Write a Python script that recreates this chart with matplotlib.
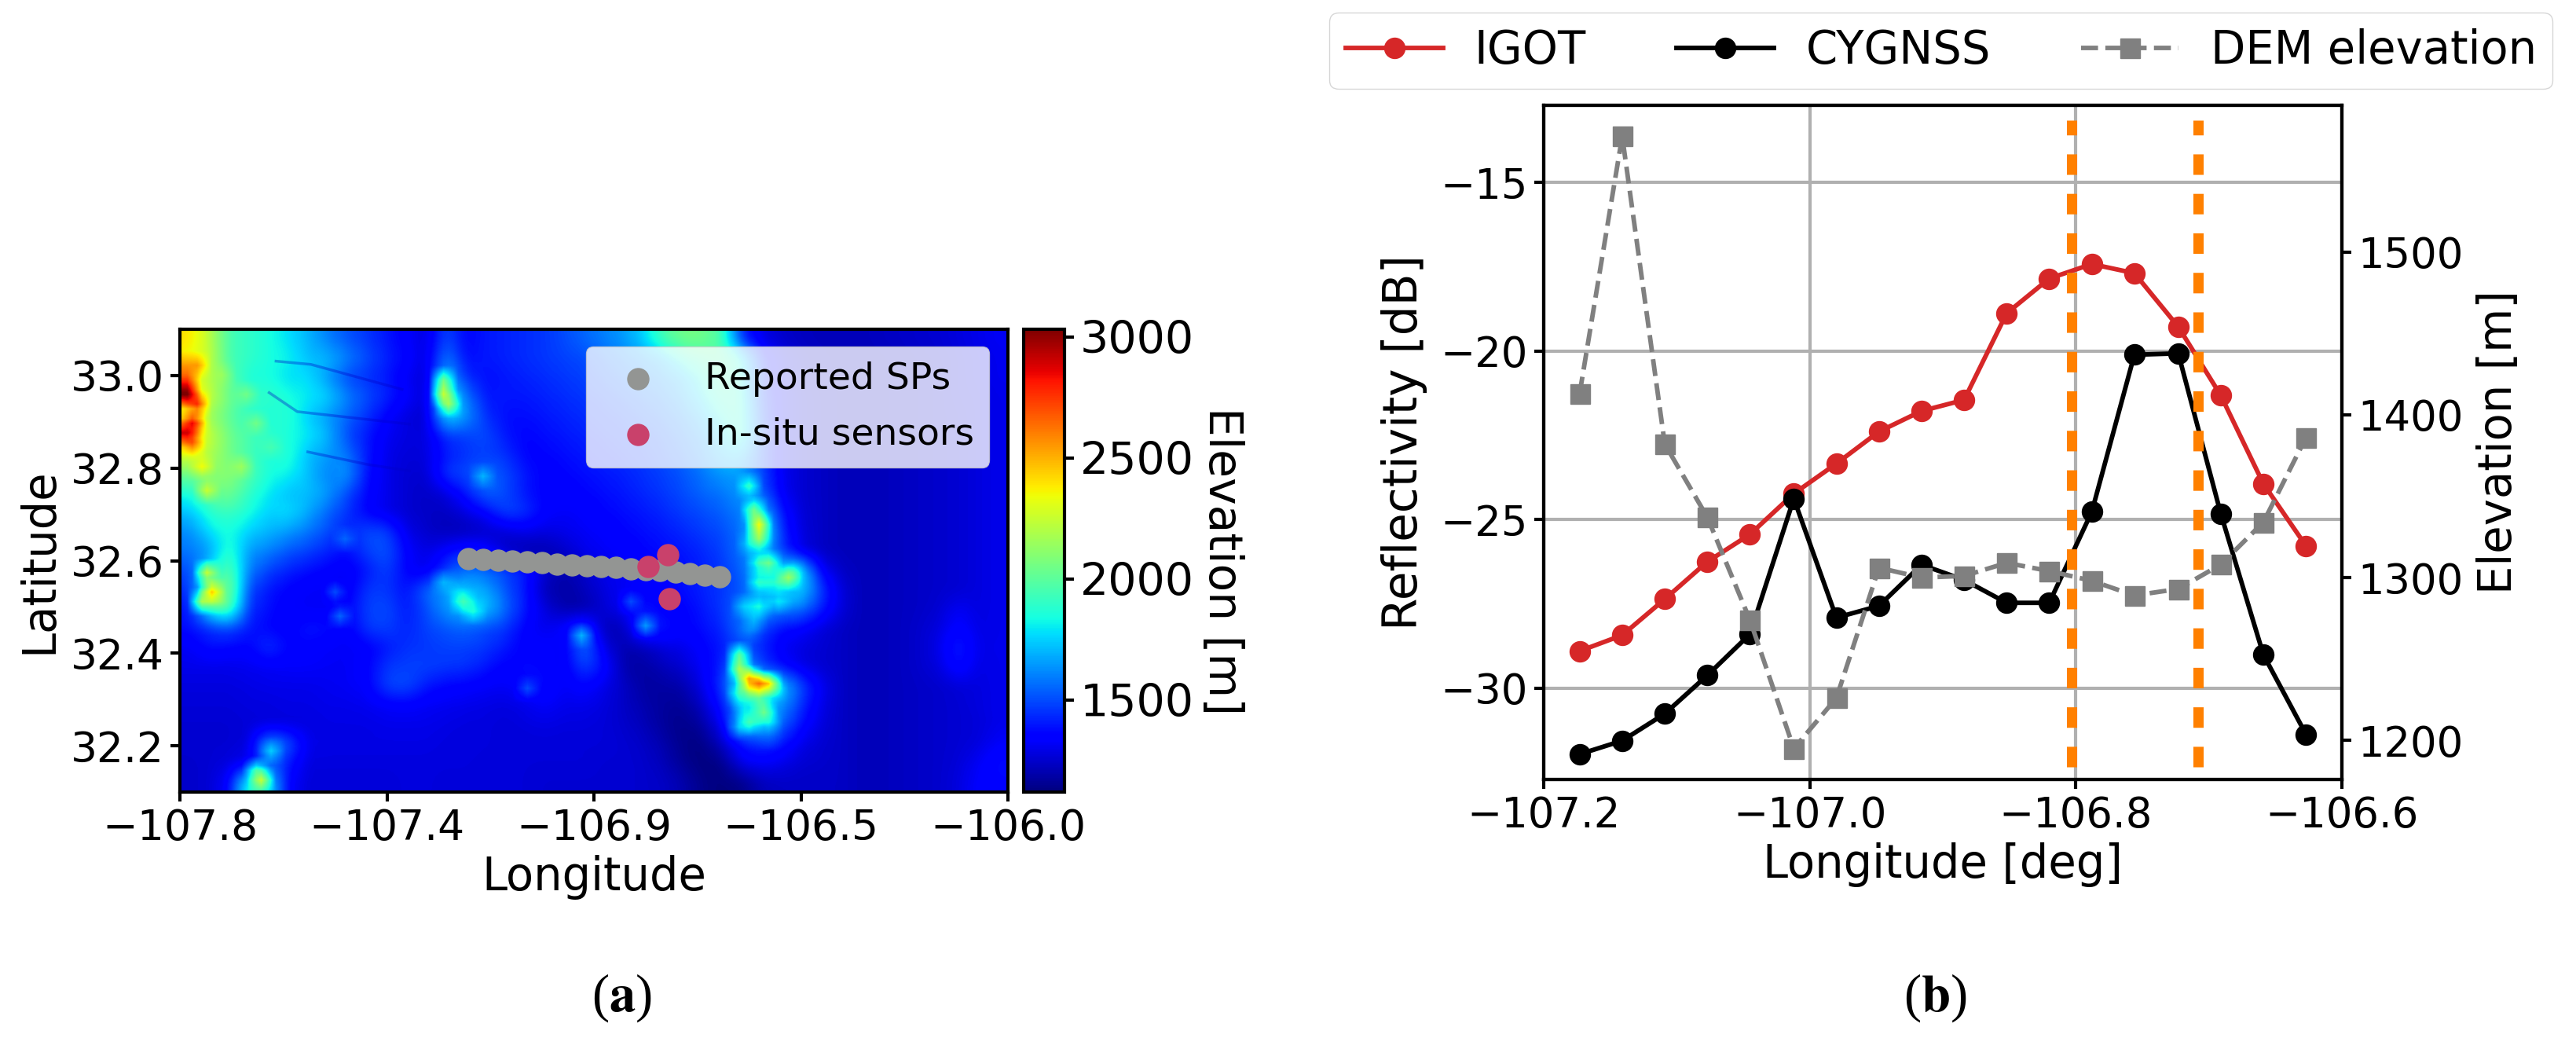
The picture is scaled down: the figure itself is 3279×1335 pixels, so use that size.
import matplotlib
matplotlib.use("Agg")
import matplotlib.pyplot as plt
import numpy as np

W, H = 3280, 1335

# elevation, in tens of metres, north to south, west to east
dem_rows = [
    [240,222,195,190,185,178,170,160,152,146,140,134,128,150,136,140,142,144,146,150,155,160,165,175,195,205,205,195,145,130,125,123,122,122,122,123,124,125,126,128,130,132],
    [235,225,195,190,185,182,172,170,160,150,142,136,128,160,138,140,142,144,146,148,150,155,160,165,172,188,195,198,185,142,130,125,123,122,122,122,123,124,125,127,129,131],
    [235,220,200,185,185,178,178,165,150,145,140,132,127,170,145,138,140,142,144,146,148,152,156,160,165,172,185,195,185,145,130,125,123,122,122,122,123,124,125,127,129,131],
    [250,225,205,190,190,185,180,175,160,150,142,134,127,185,160,140,140,140,142,144,146,148,152,156,160,168,180,192,188,148,132,126,124,122,122,122,123,124,125,127,128,130],
    [230,215,200,190,185,188,175,165,155,145,135,128,126,180,165,145,138,138,140,142,144,146,148,152,156,162,172,185,190,150,132,126,124,122,122,122,123,124,125,126,128,130],
    [245,225,205,195,190,185,180,170,150,140,132,128,128,145,148,150,140,136,138,140,142,144,146,148,152,158,165,178,190,152,132,126,124,122,122,122,123,124,125,126,128,130],
    [230,220,205,195,185,188,172,165,158,140,130,127,128,140,145,148,145,136,136,138,140,142,144,146,150,155,162,172,175,150,132,126,124,122,122,122,123,124,125,126,128,130],
    [205,210,212,198,185,182,172,160,165,138,130,126,126,145,150,155,150,140,135,136,138,140,142,145,148,152,158,165,165,150,132,126,124,122,122,122,123,124,125,126,128,130],
    [185,200,205,190,180,172,172,165,150,136,130,126,124,128,140,155,150,140,135,135,136,138,140,143,146,150,155,158,165,155,133,126,124,122,122,122,123,124,125,126,128,130],
    [172,188,192,185,175,178,168,155,145,135,130,126,124,123,128,135,148,145,135,132,134,136,138,140,143,147,150,154,160,175,140,127,124,122,122,122,123,124,125,126,128,130],
    [162,178,185,175,170,165,158,150,142,150,148,130,125,122,122,124,126,130,128,130,132,134,136,138,140,143,147,150,158,190,145,128,124,122,122,122,123,124,125,126,128,130],
    [158,165,190,165,160,152,148,142,138,148,152,135,128,135,142,138,125,120,120,124,130,132,134,136,138,140,143,148,158,170,148,130,124,122,122,122,123,124,125,126,128,130],
    [150,178,200,160,148,142,138,135,132,140,148,135,130,148,158,155,148,140,126,120,125,130,132,134,136,138,142,146,155,172,178,180,135,124,122,122,123,124,125,126,128,130],
    [145,195,210,150,140,135,133,132,132,146,146,138,155,165,172,168,152,140,122,118,122,128,132,134,136,138,142,146,152,170,165,178,148,128,122,122,123,124,125,126,128,130],
    [140,185,200,145,138,134,132,132,135,148,150,140,150,165,172,175,156,140,128,120,120,126,132,140,134,135,140,146,158,165,160,158,142,128,122,122,123,124,126,132,128,130],
    [138,145,150,140,136,134,140,138,133,146,148,142,148,152,155,150,146,135,130,135,148,122,122,146,140,135,138,143,158,150,138,135,128,124,122,122,123,125,128,136,129,130],
    [132,138,136,135,145,136,135,133,132,134,140,145,146,148,148,146,140,134,135,132,158,130,120,122,128,130,135,140,150,142,132,128,126,124,122,122,123,125,130,142,130,130],
    [130,130,130,131,132,133,133,132,132,135,146,148,148,146,145,140,134,138,136,132,148,138,120,118,122,126,133,142,172,150,138,130,126,124,122,122,123,125,128,138,129,130],
    [128,128,128,129,130,130,130,131,132,134,148,150,140,136,135,133,132,136,138,132,136,130,124,118,118,120,130,146,185,190,175,150,132,124,122,122,123,124,125,127,128,130],
    [127,127,127,128,128,129,129,130,130,131,133,134,132,131,130,129,128,130,133,130,130,128,124,120,117,116,124,140,165,172,165,145,130,124,122,122,123,124,125,126,128,130],
    [126,126,126,127,128,128,128,129,129,129,130,130,130,129,128,128,127,128,129,128,128,127,125,122,117,114,118,133,168,175,155,138,128,124,122,122,123,124,125,126,127,130],
    [126,126,126,128,165,152,130,129,129,129,129,129,129,128,128,128,127,127,127,127,127,127,126,124,120,114,113,124,140,145,140,130,126,124,122,122,123,124,125,126,128,133],
    [125,126,128,132,155,140,128,128,128,128,128,128,128,128,128,127,127,127,127,127,127,126,126,125,122,116,112,114,130,133,130,126,125,124,122,122,123,124,125,127,132,138],
    [125,126,135,190,180,135,127,127,127,127,127,128,128,127,127,127,127,127,126,126,126,126,126,125,124,120,114,112,114,122,124,124,124,124,122,122,123,124,125,128,134,136],
]
lon_edges = [-107.8, -106.0]
lat_edges = [32.1, 33.1]
elev_min, elev_max = 1120, 3032

# spot heights on the narrow ridges, too fine for the grid above
spot_lon = [-106.565,-106.550,-106.539,-106.539,-106.558,-106.546,-106.520,-106.539,-106.524,-106.478,-106.501,-106.466,-106.569,-106.539,-106.501,-106.470,-106.554,-106.558,-106.581,-106.581,-106.565,-106.546,-106.524,-106.558,-106.581,-106.508,-106.539,-106.569,-106.531,-106.562,-106.520,-106.581,-106.516,
            -107.781,-107.759,-107.743,-107.781,-107.781,-107.766,-107.789,-107.778,-107.781,-107.774,-107.774,-107.762,-107.713,-107.660,-107.637,-107.606,-107.667,-107.751,-107.740,-107.698,-107.606,-107.633,-107.591,-107.553,-107.519,-107.736,-107.728,-107.751,-107.720,-107.179,-107.195,-107.164,-107.225,-107.141,-107.446,-107.461,-107.450,-107.141,-107.225,-107.229,-107.221,-107.625,-107.633,-107.599,-106.928,-106.791,-106.818,-107.042,-107.256]
spot_lat = [32.764,32.713,32.679,32.645,32.635,32.598,32.591,32.557,32.551,32.561,32.557,32.571,32.503,32.503,32.513,32.517,32.473,32.449,32.399,32.368,32.348,32.332,32.333,32.321,32.314,32.321,32.307,32.280,32.267,32.253,32.246,32.240,32.219,
            33.024,33.017,33.031,32.990,32.955,32.943,32.970,32.895,32.875,32.855,32.841,32.895,32.997,32.956,32.902,32.848,32.801,32.808,32.753,32.740,32.767,32.713,32.720,32.963,32.801,32.571,32.534,32.510,32.510,32.510,32.537,32.493,32.557,32.524,32.645,32.537,32.483,32.780,32.963,32.987,32.936,32.125,32.145,32.192,32.436,32.463,32.513,32.328,32.456]
spot_elev = [190,205,235,215,175,190,205,190,185,215,190,185,175,185,180,170,170,160,200,215,250,265,235,215,190,190,200,180,205,195,180,170,155,
             255,255,215,270,305,275,285,285,290,265,240,245,215,205,205,195,215,235,225,200,180,175,175,175,165,225,245,215,210,195,175,185,170,165,155,150,155,170,225,205,215,225,190,175,170,165,150,150,145]

# dark drainage lines in the north west
drain_lon = [[-107.591,-107.515,-107.317], [-107.606,-107.545,-107.301], [-107.522,-107.393,-107.301]]
drain_lat = [[33.031,33.024,32.970], [32.963,32.922,32.895], [32.835,32.808,32.794]]

sp_lon = [-107.173,-107.141,-107.109,-107.077,-107.045,-107.012,-106.980,-106.948,-106.916,-106.884,-106.852,-106.820,-106.788,-106.756,-106.723,-106.691,-106.659,-106.627]
sp_lat = [32.605,32.603,32.601,32.599,32.597,32.595,32.593,32.591,32.589,32.587,32.585,32.582,32.580,32.578,32.575,32.572,32.569,32.566]
sensor_lon = [-106.739, -106.783, -106.736]
sensor_lat = [32.612, 32.588, 32.518]

igot = [-28.90,-28.43,-27.36,-26.25,-25.44,-24.23,-23.34,-22.39,-21.78,-21.45,-18.88,-17.85,-17.42,-17.69,-19.28,-21.32,-23.94,-25.78]
cygnss = [-31.96,-31.56,-30.76,-29.62,-28.40,-24.38,-27.91,-27.56,-26.34,-26.79,-27.47,-27.47,-24.77,-20.11,-20.07,-24.83,-29.01,-31.37]
dem_profile = [1413,1571,1382,1337,1274,1195,1226,1306,1300,1301,1309,1304,1298,1289,1293,1308,1334,1386]
track_bounds = [-106.803, -106.708]

map_xticks = [-107.8, -107.35, -106.9, -106.45, -106.0]
map_xlabels = ["\u2212107.8", "\u2212107.4", "\u2212106.9", "\u2212106.5", "\u2212106.0"]
map_yticks = [33.0, 32.8, 32.6, 32.4, 32.2]
cbar_ticks = [1500, 2000, 2500, 3000]
prof_xticks = [-107.2, -107.0, -106.8, -106.6]
prof_yticks = [-30, -25, -20, -15]
elev_ticks = [1200, 1300, 1400, 1500]


def px_axes(fig, x0, y0, x1, y1):
    # axes from pixel box, y measured from the top
    return fig.add_axes([x0 / W, 1 - y1 / H, (x1 - x0) / W, (y1 - y0) / H])


def box_blur(a, n):
    # running mean along both axes, edges held
    k = np.ones(n) / n
    p = n // 2
    a = np.pad(a, p, mode="edge")
    a = np.apply_along_axis(lambda r: np.convolve(r, k, mode="same"), 0, a)
    a = np.apply_along_axis(lambda r: np.convolve(r, k, mode="same"), 1, a)
    return a[p:-p, p:-p]


def build_dem():
    # grid refined 4x, spot heights pressed in so they blend with the terrain
    fine = box_blur(np.kron(np.array(dem_rows, dtype=float), np.ones((4, 4))), 5)
    nrow, ncol = fine.shape
    for lon, lat, z in zip(spot_lon, spot_lat, spot_elev):
        c = int((lon - lon_edges[0]) / (lon_edges[1] - lon_edges[0]) * ncol)
        r = int((lat_edges[1] - lat) / (lat_edges[1] - lat_edges[0]) * nrow)
        patch = fine[max(r - 1, 0):r + 2, max(c - 1, 0):c + 2]
        patch[patch < z] = z
    return box_blur(fine, 3) * 10


plt.rcParams["font.family"] = "DejaVu Sans"
plt.rcParams["axes.linewidth"] = 3.0
plt.rcParams["xtick.major.size"] = 8.5
plt.rcParams["ytick.major.size"] = 8.5
plt.rcParams["xtick.major.width"] = 3
plt.rcParams["ytick.major.width"] = 3
plt.rcParams["xtick.major.pad"] = 6
plt.rcParams["ytick.major.pad"] = 6
plt.rcParams["mathtext.fontset"] = "stix"

fig = plt.figure(figsize=(W / 100, H / 100), dpi=100)

# (a) map
ax_map = px_axes(fig, 229, 419, 1283, 1008)
im = ax_map.imshow(
    build_dem(),
    extent=[lon_edges[0], lon_edges[1], lat_edges[0], lat_edges[1]],
    cmap="jet",
    vmin=elev_min,
    vmax=elev_max,
    aspect="auto",
    interpolation="bilinear",
)
for dlon, dlat in zip(drain_lon, drain_lat):
    ax_map.plot(dlon, dlat, color="#0000c8", lw=2.5, alpha=0.35, zorder=1.5)
ax_map.scatter(sp_lon, sp_lat, s=378, color="#939593", label="Reported SPs", zorder=3)
ax_map.scatter(sensor_lon, sensor_lat, s=378, color="#c9416b", label="In-situ sensors", zorder=4)
ax_map.set_xlim(lon_edges)
ax_map.set_ylim(lat_edges)
ax_map.set_xticks(map_xticks)
ax_map.set_xticklabels(map_xlabels)
ax_map.set_yticks(map_yticks)
ax_map.tick_params(labelsize=38.5)
ax_map.set_xlabel("Longitude", fontsize=41.5, labelpad=6)
ax_map.set_ylabel("Latitude", fontsize=41.5, labelpad=8)
ax_map.legend(
    loc="upper right",
    bbox_to_anchor=(1259 / W, 1 - 441 / H),
    bbox_transform=fig.transFigure,
    fontsize=34,
    borderaxespad=0,
    borderpad=0.4,
    handletextpad=0.8,
    labelspacing=0.55,
)

cax = px_axes(fig, 1303, 419, 1355, 1008)
cb = fig.colorbar(im, cax=cax)
cb.set_ticks(cbar_ticks)
cb.ax.tick_params(labelsize=41)
cb.set_label("Elevation [m]", fontsize=42, rotation=270, labelpad=46)

# (b) reflectivity profile
ax = px_axes(fig, 1965, 134, 2981, 992)
ax.grid(True, color="#b0b0b0", linewidth=3)
ax.set_axisbelow(True)
l1, = ax.plot(sp_lon, igot, "-o", color="#d62728", lw=4.2, ms=18.7, label="IGOT")
l2, = ax.plot(sp_lon, cygnss, "-o", color="black", lw=4.2, ms=18.7, label="CYGNSS")
ax.vlines(track_bounds, -32.34, -13.16, color="#ff8000", lw=9.4, linestyles=(0, (2.0, 1.85)), zorder=5)
ax.set_xlim(-107.2, -106.6)
ax.set_ylim(-32.71, -12.71)
ax.set_xticks(prof_xticks)
ax.set_xticklabels(["\u2212107.2", "\u2212107.0", "\u2212106.8", "\u2212106.6"])
ax.set_yticks(prof_yticks)
ax.tick_params(labelsize=38)
ax.set_xlabel("Longitude [deg]", fontsize=41.5, labelpad=6)
ax.set_ylabel("Reflectivity [dB]", fontsize=43, labelpad=12)

ax_r = ax.twinx()
l3, = ax_r.plot(sp_lon, dem_profile, "--s", color="gray", lw=4.2, ms=18, label="DEM elevation")
ax_r.set_ylim(1176, 1590)
ax_r.set_yticks(elev_ticks)
ax_r.tick_params(labelsize=38)
ax_r.set_ylabel("Elevation [m]", fontsize=41.5, labelpad=12)

fig.legend(
    handles=[l1, l2, l3],
    loc="upper right",
    bbox_to_anchor=(3249 / W, 1 - 16 / H),
    ncol=3,
    fontsize=41.5,
    borderaxespad=0,
    borderpad=0.35,
    handlelength=2.15,
    handletextpad=0.7,
    columnspacing=2.0,
)

# panel captions
fig.text(791 / W, 1 - 1270 / H, r"($\mathbf{a}$)", fontsize=48, family="Liberation Serif", ha="center", va="center")
fig.text(2463 / W, 1 - 1270 / H, r"($\mathbf{b}$)", fontsize=48, family="Liberation Serif", ha="center", va="center")

fig.savefig("out.png", dpi=100)
